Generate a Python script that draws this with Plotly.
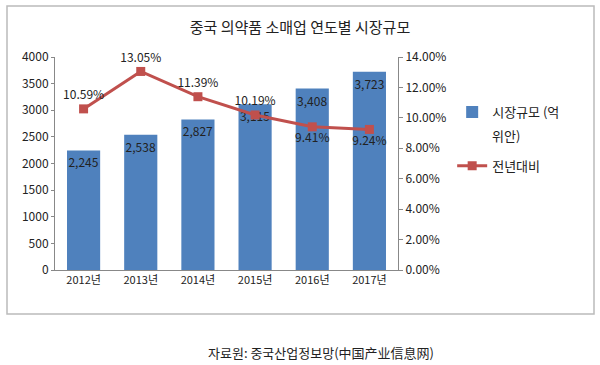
import plotly.graph_objects as go

years = ["2012년", "2013년", "2014년", "2015년", "2016년", "2017년"]
market_size = [2245, 2538, 2827, 3115, 3408, 3723]
yoy = [0.1059, 0.1305, 0.1139, 0.1019, 0.0941, 0.0924]
size_labels = ["2,245", "2,538", "2,827", "3,115", "3,408", "3,723"]
yoy_labels = ["10.59%", "13.05%", "11.39%", "10.19%", "9.41%", "9.24%"]
yoy_pos = ["top center", "top center", "top center", "top center", "bottom center", "bottom center"]

FONT = "Noto Sans CJK KR, Malgun Gothic, sans-serif"
TXT = "#222222"

fig = go.Figure()
fig.add_trace(go.Bar(
    x=years, y=market_size, name="시장규모 (억", legendgroup="a",
    marker=dict(color="#4F81BD", line=dict(width=0)),
    text=size_labels, textposition="inside", insidetextanchor="end",
    textangle=0, constraintext="none",
    textfont=dict(color=TXT, size=12, family=FONT),
    hoverinfo="skip",
))
fig.add_trace(go.Scatter(
    x=years, y=yoy, name="전년대비", yaxis="y2", legendgroup="b",
    mode="lines+markers+text",
    line=dict(color="#C0504D", width=3),
    marker=dict(symbol="square", size=9, color="#C0504D"),
    text=yoy_labels, textposition=yoy_pos, cliponaxis=False,
    textfont=dict(color=TXT, size=12, family=FONT),
    hoverinfo="skip",
))

fig.update_layout(
    width=600, height=365,
    margin=dict(l=55, r=202, t=57, b=95),
    paper_bgcolor="white", plot_bgcolor="white",
    font=dict(family=FONT, size=11, color=TXT),
    bargap=0.42,
    showlegend=True,
    title=dict(text="중국 의약품 소매업 연도별 시장규모", x=0.5, xref="container",
               y=1 - 28 / 365, yref="container", yanchor="middle", xanchor="center",
               font=dict(size=15, color=TXT, family=FONT)),
    xaxis=dict(showline=True, linecolor="#888888", linewidth=1, ticks="",
               tickfont=dict(size=11, color=TXT), showgrid=False),
    yaxis=dict(range=[0, 4000], dtick=500, showgrid=False, showline=True,
               linecolor="#888888", linewidth=1, ticks="outside", ticklen=3,
               tickcolor="#888888", tickfont=dict(size=12, color=TXT), zeroline=False),
    yaxis2=dict(range=[0, 0.14], dtick=0.02, tickformat=".2%", overlaying="y",
                side="right", showgrid=False, showline=True, linecolor="#888888",
                linewidth=1, ticks="outside", ticklen=4, tickcolor="#888888",
                tickfont=dict(size=12, color=TXT), zeroline=False),
    legend=dict(x=1.19 - 11 / 343, y=(270 - 97) / 213, xanchor="left", yanchor="top",
                valign="middle",
                font=dict(size=13, color=TXT, family=FONT),
                itemwidth=30, tracegroupgap=34, bgcolor="rgba(0,0,0,0)"),
    shapes=[dict(type="rect", xref="paper", yref="paper",
                 x0=-48 / 343, x1=539 / 343, y0=-44 / 213, y1=(270 - 6) / 213,
                 line=dict(color="#BBBBBB", width=1.5))],
    annotations=[
        dict(text="자료원: 중국산업정보망(中国产业信息网)", xref="paper", yref="paper",
             x=(321 - 55) / 343, y=-(352 - 270) / 213, showarrow=False,
             xanchor="center", yanchor="middle",
             font=dict(size=13, color=TXT, family=FONT)),
        dict(text="위안)", xref="paper", yref="paper",
             x=(490 - 55) / 343, y=(270 - 135) / 213, showarrow=False,
             xanchor="left", yanchor="middle",
             font=dict(size=13, color=TXT, family=FONT)),
    ],
)

fig.write_html("out.html", config={"displayModeBar": False},
               post_script="document.body.style.margin='0';")
